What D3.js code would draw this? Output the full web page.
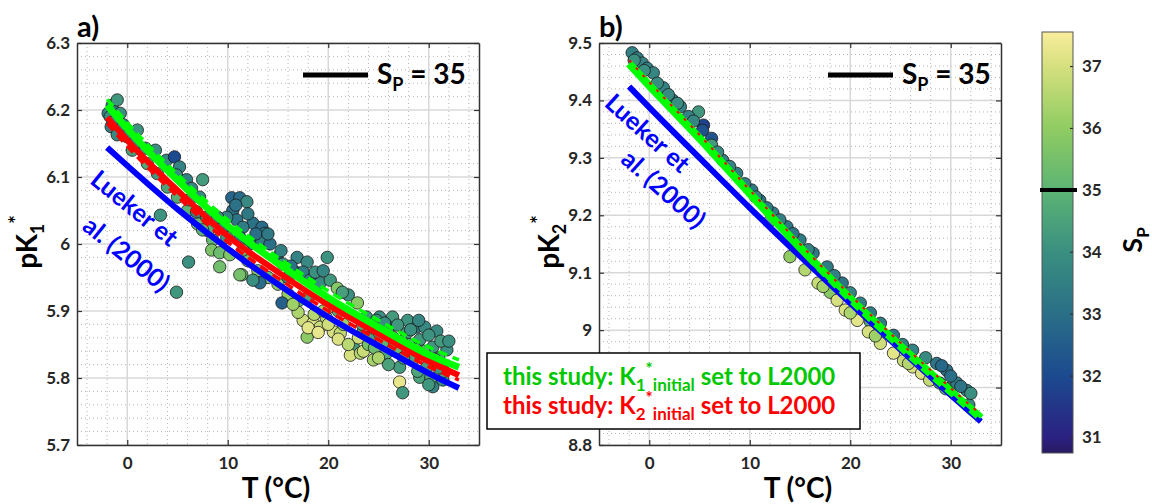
<!DOCTYPE html>
<html>
<head>
<meta charset="utf-8">
<script src="https://cdn.jsdelivr.net/npm/d3@7"></script>
<style>
  body { margin: 0; background: #fff; }
  svg { display: block; font-family: Lato, 'Open Sans', sans-serif; font-weight: 700; }
</style>
</head>
<body>
<svg id="chart" width="1152" height="504"></svg>
<script>
// ---- data ----
const xTicks = [0, 10, 20, 30]
const k1Ticks = [5.7, 5.8, 5.9, 6, 6.1, 6.2, 6.3]
const k2Ticks = [8.8, 8.9, 9, 9.1, 9.2, 9.3, 9.4, 9.5]
const salTicks = [31, 32, 33, 34, 35, 36, 37]

// curves, sampled at these temperatures
const curveT = [-2, 0, 5, 10, 15, 20, 25, 30, 33]
const k1Lueker = [6.144, 6.117, 6.052, 5.993, 5.940, 5.891, 5.848, 5.807, 5.785]
const k1Green = [6.207, 6.172, 6.095, 6.027, 5.971, 5.920, 5.876, 5.835, 5.816]
const k1GreenDash = [6.216, 6.181, 6.104, 6.036, 5.980, 5.930, 5.886, 5.846, 5.827]
const k1Red = [6.189, 6.155, 6.080, 6.012, 5.958, 5.909, 5.866, 5.825, 5.804]
const k1RedDash = [6.180, 6.146, 6.071, 6.003, 5.949, 5.900, 5.857, 5.817, 5.797]
const k2Lueker = [9.424, 9.388, 9.300, 9.213, 9.129, 9.047, 8.966, 8.887, 8.841]
const k2Green = [9.464, 9.426, 9.334, 9.238, 9.144, 9.055, 8.972, 8.893, 8.847]
const k2Red = [9.470, 9.432, 9.340, 9.244, 9.150, 9.061, 8.978, 8.899, 8.853]

// observations: [T, pK, S_P]
const k1Obs = [
  [-1.6,6.175,33.5],[0.5,6.14,34.4],[2,6.12,34.6],[3,6.105,34.2],[4,6.085,34.5],[5,6.07,34.8],[6,6.05,35.0],[7,6.03,35.3],[8,6.02,34.9],
  [-1.9,6.195,33.6],[-1.7,6.19,33.9],[-1.5,6.207,33.4],[-1,6.215,34.2],[-1.4,6.182,33.7],[-0.7,6.195,34.0],[-0.4,6.178,33.5],
  [-1,6.163,33.8],[0,6.16,33.6],[1,6.17,34.1],[0.8,6.151,33.7],[1.8,6.143,33.9],[2.8,6.14,34.0],[3.9,6.125,33.8],[4.7,6.13,32.0],
  [5.2,6.115,33.6],[4.9,6.103,33.9],[5.9,6.096,33.5],[7.5,6.096,34.3],[6.4,6.083,33.7],[7.2,6.07,33.8],[6.2,6.066,34.0],
  [6.9,6.048,33.6],[3.3,6.043,34.1],[7.9,6.04,33.8],[7.5,6.021,35.0],[8.5,6.006,35.2],[8.4,5.991,35.6],[9.2,5.987,35.3],
  [9.9,6.01,34.2],[6.1,5.973,34.0],[4.9,5.928,34.2],
  [12,5.975,35.5],[13,5.96,35.8],[14,5.95,35.4],[15,5.94,35.9],[16,5.925,36.0],[17,5.915,35.2],[18,5.92,34.5],[21,5.9,34.8],[23.5,5.87,35.0],
  [10.4,6.069,32.7],[11.2,6.069,32.9],[11.9,6.063,33.8],[10.5,6.05,33.0],[10.9,6.036,33.2],[12.5,6.031,33.1],[13.4,6.025,32.9],
  [13.7,6.016,33.2],[11.5,6.025,33.4],[11.2,6.01,33.0],[9.9,6.04,33.6],[9.5,6.025,33.3],[9,6.04,33.9],[13.2,6.006,33.5],
  [12.2,6.0,33.2],[14.2,6.0,33.0],[14.9,5.98,32.6],[16.9,5.98,33.6],[17.9,5.973,33.8],[19.9,5.98,34.1],[16.9,5.957,32.8],
  [17.5,5.958,33.4],[18.2,5.946,33.6],[19.2,5.942,33.9],[20.2,5.946,34.2],[20.9,5.934,35.8],[22,5.924,34.0],[22.9,5.912,35.9],
  [15.4,5.912,32.6],[13.2,5.942,32.9],[11.4,5.954,35.2],[12.5,5.946,34.0],[10.2,5.984,35.7],[9.2,5.966,35.4],[11.2,5.954,35.5],
  [11.5,5.991,35.3],[15.5,5.97,34.2],[16,5.95,33.8],
  [10.8,6.058,33.1],[12,6.045,33.3],[12.8,6.015,33.0],[14,6.015,33.3],[15.3,5.99,33.5],[16.3,5.967,33.1],[18.7,5.958,34.0],
  [21.4,5.928,34.4],[19.5,5.96,33.7],
  [17.5,5.886,36.9],[18.5,5.882,37.1],[19.2,5.876,36.8],[20.5,5.869,37.0],[21.2,5.867,36.7],[17.9,5.861,35.9],[18.6,5.895,36.5],
  [19.8,5.89,36.6],[22.5,5.846,34.3],[22.2,5.834,37.0],[23.2,5.837,36.5],[24.5,5.827,36.3],[24.2,5.861,34.4],[21.5,5.88,36.2],
  [23,5.86,36.9],[20,5.905,35.6],
  [18,5.875,37.2],[19,5.868,37.3],[20,5.88,36.9],[21,5.858,37.1],[22,5.85,36.6],[23.5,5.84,36.8],[19.5,5.9,36.1],[17,5.898,36.4],
  [16.5,5.91,36.2],
  [23.8,5.891,34.2],[25.1,5.891,34.0],[26.4,5.891,34.3],[27.9,5.886,34.1],[28.8,5.876,33.4],[29.6,5.876,33.8],[30.4,5.846,34.2],
  [31.8,5.842,34.0],[27.8,5.867,34.4],[29.1,5.857,34.2],[26.4,5.861,34.6],[25.1,5.867,34.5],[24.8,5.886,34.0],[26,5.876,34.3],
  [25.8,5.837,34.7],[27.1,5.816,34.3],[28.4,5.827,34.6],[29.8,5.816,34.4],[30.4,5.787,33.6],[31.4,5.797,34.0],[27.1,5.794,37.3],
  [27.4,5.778,34.2],[29.1,5.801,34.5],[30.8,5.87,33.8],[31,5.83,34.5],[28,5.85,34.8],[26.8,5.845,35.2],[24,5.85,35.5],
  [29.5,5.84,34.9],[31.5,5.81,34.4],[30.2,5.8,34.7],
  [24.5,5.875,34.1],[25.6,5.882,33.9],[26.9,5.879,34.2],[28.2,5.872,34.0],[29,5.886,33.7],[30,5.864,34.1],[31.2,5.855,34.3],
  [30.6,5.828,34.6],[28.7,5.843,34.9],[27.3,5.855,34.5],[26.2,5.85,34.8],[25.4,5.852,35.0],[24.6,5.845,35.3],[23.4,5.88,34.6],
  [27.5,5.83,34.8],[28.9,5.81,34.6],[30,5.79,34.2],[31,5.815,34.1],[32,5.855,34.0],[25,5.83,36.4],[26,5.82,34.5]
]

const k2Obs = [
  [12,9.19,35.0],[16,9.12,34.5],[22,9.015,34.8],[26,8.95,35.0],[30,8.9,34.6],[31.8,8.87,33.8],
  [14,9.128,36.0],[15.5,9.105,36.5],[16.8,9.082,36.8],[18,9.066,35.8],[18.7,9.052,37.0],[19.5,9.035,37.1],[20.7,9.017,37.2],
  [21.8,8.997,37.0],[23,8.977,36.9],[24.3,8.96,37.2],[25.3,8.947,36.8],[26.2,8.936,37.0],[27.1,8.925,37.1],[27.9,8.913,36.7],
  [28.9,8.908,34.2],[29.5,8.898,35.0],[22.5,8.99,36.2],[20,9.03,36.4],[17.3,9.076,36.3],[25.8,8.942,36.5],
  [-1.7,9.483,33.5],[-1.2,9.474,33.4],[-0.7,9.465,33.6],[-0.2,9.456,33.5],[0.4,9.448,33.7],[1.4,9.422,33.6],[2.3,9.401,33.4],
  [3.1,9.389,33.5],[4.9,9.38,34.2],[3.9,9.372,33.6],[5.4,9.357,31.8],[5.3,9.348,32.2],[6.2,9.334,32.3],[6.2,9.322,34.3],
  [7.3,9.296,33.5],[8.7,9.273,33.4],[10.2,9.244,33.3],[11,9.226,33.2],[12.3,9.204,33.4],[13.7,9.18,33.3],[15,9.157,33.4],
  [-1.5,9.47,34.0],[-0.5,9.452,34.0],[0.8,9.43,33.9],[1.9,9.41,33.8],[2.8,9.395,33.9],[4.4,9.364,33.7],[6.8,9.31,33.8],
  [8,9.285,33.6],[9.5,9.255,33.5],[10.6,9.232,33.7],[11.7,9.213,33.4],[13,9.192,33.5],[14.3,9.168,33.2],
  [16.3,9.134,33.3],[17.7,9.11,33.4],[19.2,9.082,33.2],[21,9.047,33.5],[23,9.012,33.4],[24.3,8.991,33.3],[26.2,8.965,33.6],
  [28.6,8.942,33.2],[29.6,8.93,33.1],[30.6,8.908,33.4],[31.6,8.895,33.5],[15.8,9.14,33.6],[18.4,9.095,33.5],[20,9.065,33.7],
  [22,9.03,33.4],[25.2,8.975,33.5],[27.5,8.952,33.8],[29.1,8.938,32.8],[30,8.92,33.0],[31,8.902,33.2],[32,8.89,34.0]
]

// ---- colour map (haline-like) ----
const salStops = [30.75, 31, 32, 33, 34, 35, 36, 37, 37.55]
const salColors = ['#281a62', '#2b2181', '#1c4a8f', '#2a6f87', '#3a8f80', '#5cb474', '#90cc62', '#d6e07e', '#f9ed9c']
const color = d3.scaleLinear().domain(salStops).range(salColors).clamp(true)

const svg = d3.select('#chart')
const fmt = d => String(+d.toFixed(1))

function styleAxis(sel) {
  sel.select('.domain').attr('stroke', '#333').attr('stroke-width', 1.5)
  sel.selectAll('.tick line').attr('stroke', '#333').attr('stroke-width', 1.2)
  sel.selectAll('.tick text').attr('fill', '#262626').attr('font-size', 17)
      .attr('font-family', 'Lato, sans-serif').attr('font-weight', 700)
}

function drawPanel(p) {
  const x = d3.scaleLinear().domain([-5, 35]).range([p.x0, p.x1])
  const y = d3.scaleLinear().domain(p.yDomain).range([445, 43])
  const g = svg.append('g')

  // minor grid
  const xMinor = d3.range(-4, 35, 2).filter(v => v % 10 !== 0)
  const nMinor = Math.round((p.yDomain[1] - p.yDomain[0]) / 0.02)
  const yMinor = d3.range(1, nMinor).filter(i => i % 5 !== 0).map(i => p.yDomain[0] + i * 0.02)
  g.selectAll('.mx').data(xMinor).join('line')
      .attr('x1', d => x(d)).attr('x2', d => x(d)).attr('y1', 43).attr('y2', 445)
      .attr('stroke', '#b5b5b5').attr('stroke-dasharray', '1,3')
  g.selectAll('.my').data(yMinor).join('line')
      .attr('y1', d => y(d)).attr('y2', d => y(d)).attr('x1', p.x0).attr('x2', p.x1)
      .attr('stroke', '#b5b5b5').attr('stroke-dasharray', '1,3')
  // major grid
  g.selectAll('.gx').data(xTicks).join('line')
      .attr('x1', d => x(d)).attr('x2', d => x(d)).attr('y1', 43).attr('y2', 445)
      .attr('stroke', '#d8d8d8').attr('stroke-width', 1.5)
  g.selectAll('.gy').data(p.yTicks).join('line')
      .attr('y1', d => y(d)).attr('y2', d => y(d)).attr('x1', p.x0).attr('x2', p.x1)
      .attr('stroke', '#d8d8d8').attr('stroke-width', 1.5)

  // observations
  g.append('g').selectAll('circle').data(p.obs).join('circle')
      .attr('cx', d => x(d[0])).attr('cy', d => y(d[1])).attr('r', 6.2)
      .attr('fill', d => color(d[2])).attr('stroke', '#1a1a1a').attr('stroke-width', 0.8)

  // curves
  const line = d3.line().x(d => x(d[0])).y(d => y(d[1])).curve(d3.curveMonotoneX)
  for (const c of p.lines) {
    g.append('path')
        .datum(curveT.map((t, i) => [t, c.v[i]]))
        .attr('fill', 'none')
        .attr('stroke', c.color)
        .attr('stroke-width', c.w)
        .attr('stroke-dasharray', c.dash || null)
        .attr('d', line)
  }

  // axes (box on, ticks inward)
  g.append('g').attr('transform', `translate(${p.x0},0)`)
      .call(d3.axisLeft(y).tickValues(p.yTicks).tickFormat(p.yFmt).tickSizeInner(-5).tickSizeOuter(0).tickPadding(7))
      .call(styleAxis)
  g.append('g').attr('transform', `translate(${p.x1},0)`)
      .call(d3.axisRight(y).tickValues(p.yTicks).tickFormat('').tickSizeInner(-5).tickSizeOuter(0))
      .call(styleAxis)
  g.append('g').attr('transform', 'translate(0,445)')
      .call(d3.axisBottom(x).tickValues(xTicks).tickFormat(fmt).tickSizeInner(-5).tickSizeOuter(0).tickPadding(12))
      .call(styleAxis)
  g.append('g').attr('transform', 'translate(0,43)')
      .call(d3.axisTop(x).tickValues(xTicks).tickFormat('').tickSizeInner(-5).tickSizeOuter(0))
      .call(styleAxis)

  // panel letter
  g.append('text').attr('x', p.x0).attr('y', 37).attr('font-size', 29).attr('fill', '#000').text(p.letter)

  // x label
  g.append('text').attr('x', (p.x0 + p.x1) / 2 - 2).attr('y', 498).attr('text-anchor', 'middle')
      .attr('font-size', 28).attr('fill', '#000').text('T (°C)')

  // y label
  const yl = g.append('text')
      .attr('transform', `translate(${p.ylx},242) rotate(-90)`)
      .attr('text-anchor', 'middle').attr('font-size', 28).attr('fill', '#000')
  yl.append('tspan').text('pK')
  yl.append('tspan').attr('font-size', 18).attr('dy', 7).text(p.sub)
  yl.append('tspan').attr('font-size', 20).attr('dy', -20).text('*')

  // S_P = 35 legend
  g.append('line').attr('x1', p.legX).attr('x2', p.legX + 65).attr('y1', 75).attr('y2', 75)
      .attr('stroke', '#000').attr('stroke-width', 5)
  const lt = g.append('text').attr('x', p.legX + 74).attr('y', 84).attr('font-size', 28).attr('fill', '#000')
  lt.append('tspan').text('S')
  lt.append('tspan').attr('font-size', 18).attr('dy', 7).text('P')
  lt.append('tspan').attr('dy', -7).text(' = 35')

  // Lueker label
  for (const l of p.lueker) {
    g.append('text')
        .attr('transform', `translate(${l.x},${l.y}) rotate(${p.angle})`)
        .attr('text-anchor', 'middle').attr('dominant-baseline', 'middle')
        .attr('font-size', 25).attr('fill', '#0000ff').text(l.t)
  }
}

drawPanel({
  x0: 77, x1: 479, yDomain: [5.7, 6.3], yTicks: k1Ticks, yFmt: fmt, obs: k1Obs,
  letter: 'a)', sub: '1', ylx: 37, legX: 303, angle: 39,
  lueker: [{ t: 'Lueker et', x: 133, y: 210 }, { t: 'al. (2000)', x: 125, y: 256 }],
  lines: [
    { v: k1Lueker, color: '#0000ff', w: 6 },
    { v: k1Red, color: '#ff0000', w: 6 },
    { v: k1RedDash, color: '#ff0000', w: 3.5, dash: '9,6' },
    { v: k1Green, color: '#00ff00', w: 7 },
    { v: k1GreenDash, color: '#00ff00', w: 3.5, dash: '9,6' }
  ]
})

drawPanel({
  // the 8.9 label sits under the legend box in the original
  x0: 599, x1: 1001, yDomain: [8.8, 9.5], yTicks: k2Ticks, yFmt: d => (d === 8.9 ? '' : fmt(d)), obs: k2Obs,
  letter: 'b)', sub: '2', ylx: 559, legX: 828, angle: 42,
  lueker: [{ t: 'Lueker et', x: 646, y: 135 }, { t: 'al. (2000)', x: 662, y: 191 }],
  lines: [
    { v: k2Lueker, color: '#0000ff', w: 6 },
    { v: k2Green, color: '#00ff00', w: 8 },
    { v: k2Red, color: '#ff0000', w: 2, dash: '3,7' },
    { v: k2Lueker, color: '#0000ff', w: 3, dash: '6,10' }
  ]
})

// ---- method legend box ----
const box = svg.append('g')
box.append('rect').attr('x', 487).attr('y', 353).attr('width', 373).attr('height', 76)
    .attr('fill', '#fff').attr('stroke', '#000').attr('stroke-width', 1.5)
const boxRows = [{ c: '#00c800', k: '1', y: 385 }, { c: '#ff0000', k: '2', y: 414 }]
for (const r of boxRows) {
  const t = box.append('text').attr('x', 503).attr('y', r.y).attr('font-size', 24).attr('fill', r.c)
  t.append('tspan').text('this study: K')
  t.append('tspan').attr('font-size', 17).attr('dy', 6).text(r.k)
  t.append('tspan').attr('font-size', 17).attr('dy', -16).text('*')
  t.append('tspan').attr('font-size', 17).attr('dy', 16).text('initial')
  t.append('tspan').attr('dy', -6).text(' set to L2000')
}

// ---- colorbar ----
const cb = d3.scaleLinear().domain([30.75, 37.55]).range([453, 32])
const defs = svg.append('defs')
const grad = defs.append('linearGradient').attr('id', 'cbg')
    .attr('x1', 0).attr('x2', 0).attr('y1', 1).attr('y2', 0)
grad.selectAll('stop').data(salStops).join('stop')
    .attr('offset', d => (d - 30.75) / (37.55 - 30.75))
    .attr('stop-color', d => color(d))
svg.append('rect').attr('x', 1042).attr('y', 32).attr('width', 31).attr('height', 421)
    .attr('fill', 'url(#cbg)').attr('stroke', '#555').attr('stroke-width', 1)
const cbAxis = svg.append('g').attr('transform', 'translate(1073,0)')
    .call(d3.axisRight(cb).tickValues(salTicks).tickFormat(d3.format('d')).tickSizeInner(-3).tickSizeOuter(0).tickPadding(9))
    .call(styleAxis)
cbAxis.select('.domain').remove()
svg.append('line').attr('x1', 1040).attr('x2', 1077).attr('y1', cb(35)).attr('y2', cb(35))
    .attr('stroke', '#000').attr('stroke-width', 4)
const cl = svg.append('text').attr('transform', 'translate(1142,240) rotate(-90)')
    .attr('text-anchor', 'middle').attr('font-size', 27).attr('fill', '#000')
cl.append('tspan').text('S')
cl.append('tspan').attr('font-size', 17).attr('dy', 7).text('P')
</script>
</body>
</html>
